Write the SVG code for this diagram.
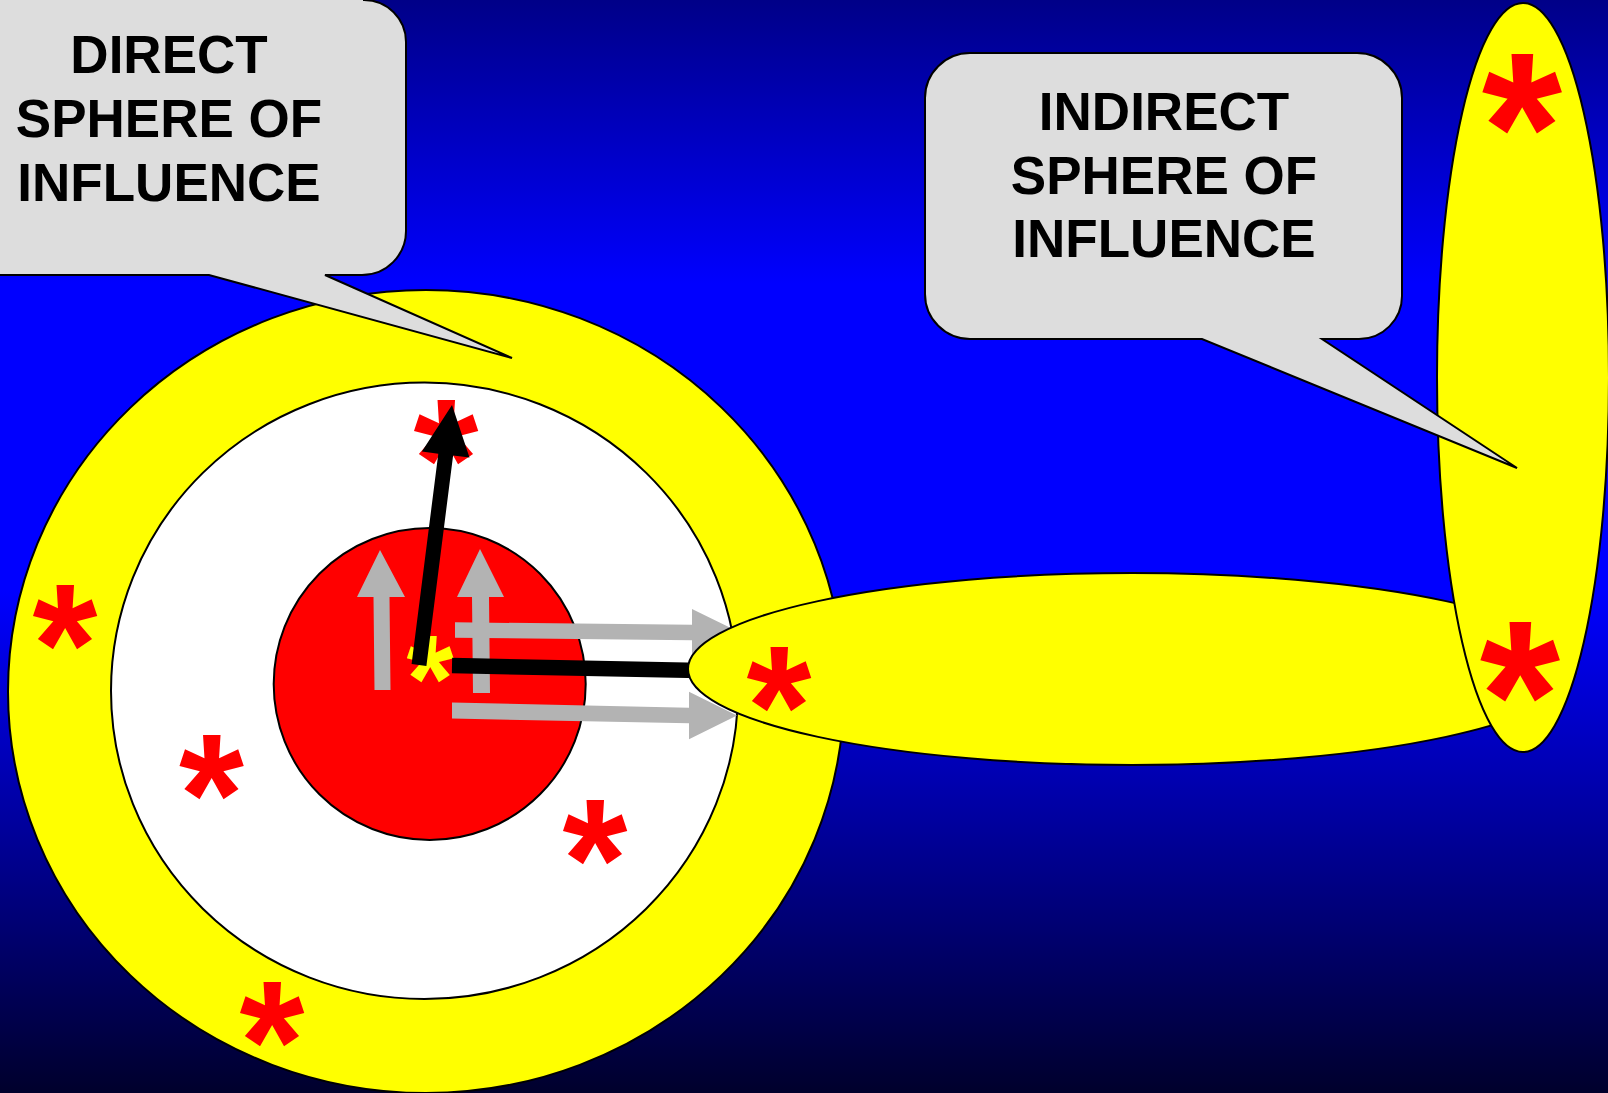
<svg xmlns="http://www.w3.org/2000/svg" width="1608" height="1093" viewBox="0 0 1608 1093">
<defs>
<linearGradient id="bg" x1="0" y1="0" x2="0" y2="1">
<stop offset="0" stop-color="#000088"/>
<stop offset="0.26" stop-color="#0000FF"/>
<stop offset="0.54" stop-color="#0000FF"/>
<stop offset="1" stop-color="#00002C"/>
</linearGradient>
<style>
.ol{stroke:#000;stroke-width:2}
.yel{fill:#FFFF00}
.lbl{font-family:"Liberation Sans",Arial,sans-serif;font-weight:bold;font-size:53px;fill:#000;text-anchor:middle}
.st{font-family:"Liberation Sans",Arial,sans-serif;font-weight:bold;fill:#FF0000;text-anchor:middle}
.s{font-size:172px}
.L{font-size:213px}
.gray{fill:#B3B3B3}
.call{fill:#DDDDDD;stroke:#000;stroke-width:2;stroke-linejoin:miter}
</style>
</defs>
<rect x="0" y="0" width="1608" height="1093" fill="url(#bg)"/>

<g id="outer-sphere">
<ellipse class="yel ol" cx="426" cy="691.5" rx="418" ry="401.5"/>
<text class="st s" transform="translate(65,703.5) scale(0.97,1)">*</text>
<text class="st s" transform="translate(272,1101) scale(0.97,1)">*</text>
</g>
<g id="middle-sphere">
<ellipse class="ol" fill="#FFFFFF" cx="424.5" cy="690.8" rx="313.5" ry="308.2"/>
<text class="st s" transform="translate(211.5,854) scale(0.97,1)">*</text>
<text class="st s" transform="translate(595,919) scale(0.97,1)">*</text>
<text class="st s" transform="translate(446,519) scale(0.97,1)">*</text>
</g>
<g id="core">
<ellipse class="ol" fill="#FF0000" cx="429.7" cy="684" rx="156" ry="156"/>
<text class="st" style="font-size:125px;fill:#FFFF00" transform="translate(430,722) scale(0.97,1)">*</text>
</g>

<g id="connectors">
<polygon class="gray" points="374.5,690 390.5,690 389.5,597 405,597 380,550 357,597 373.5,597"/>
<polygon class="gray" points="473,693 490,693 489,597 504,597 480,549 457,597 472,597"/>
<polygon class="gray" points="455,622.3 692,624.8 692,609 740,632.5 692,656 692,640.2 455,637.7"/>
<polygon class="gray" points="452,702.5 689,707.7 689,691.7 737,715.5 689,739.3 689,723.3 452,718.5"/>
<line x1="452" y1="665.5" x2="700" y2="670.5" stroke="#000" stroke-width="15.5"/>
<polygon fill="#000" points="411.6,664.1 426.4,665.9 453.1,455.5 469.5,457.6 452,405 421.9,451.6 438.3,453.7"/>
</g>

<g id="chain-sphere">
<ellipse class="yel ol" cx="1132" cy="669" rx="444" ry="96"/>
<text class="st s" transform="translate(779,766) scale(0.97,1)">*</text>
</g>
<g id="far-sphere">
<ellipse class="yel ol" cx="1523" cy="377.5" rx="86" ry="374.5"/>
<text class="st L" transform="translate(1522,201) scale(0.97,1)">*</text>
<text class="st L" transform="translate(1520,769) scale(0.97,1)">*</text>
</g>

<g id="direct-callout">
<path class="call" d="M -10,-10 L 364,-10 L 364,0 A 42 42 0 0 1 406,42 L 406,231 A 44 44 0 0 1 362,275 L 325,275 L 512,358 L 209,275 L -10,275 Z"/>
<text class="lbl" x="169" y="73">DIRECT</text>
<text class="lbl" x="169" y="137">SPHERE OF</text>
<text class="lbl" x="169" y="201">INFLUENCE</text>
</g>

<g id="indirect-callout">
<path class="call" d="M 970,53 L 1357,53 A 45 45 0 0 1 1402,98 L 1402,296 A 43 43 0 0 1 1359,339 L 1322,339 L 1517,468 L 1202,339 L 970,339 A 45 45 0 0 1 925,294 L 925,98 A 45 45 0 0 1 970,53 Z"/>
<text class="lbl" x="1164" y="130">INDIRECT</text>
<text class="lbl" x="1164" y="194">SPHERE OF</text>
<text class="lbl" x="1164" y="257">INFLUENCE</text>
</g>
</svg>
